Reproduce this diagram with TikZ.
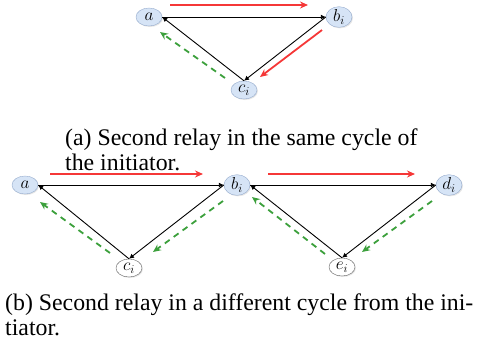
\documentclass[tikz,border=0pt]{standalone}
\usepackage{fontspec}
\setmainfont{Liberation Serif}
\usetikzlibrary{arrows.meta,shapes.geometric,shadows}
\definecolor{relayred}{RGB}{245,55,55}
\definecolor{ackgreen}{RGB}{60,160,60}
\definecolor{nodeblue}{RGB}{214,228,246}
\definecolor{nodeedge}{RGB}{150,172,205}

\begin{document}
\begin{tikzpicture}[
  x=1pt,y=-1pt,
  peer/.style={ellipse,draw=nodeedge,fill=nodeblue,minimum width=26pt,minimum height=18pt,inner sep=0pt,
    font=\fontsize{17}{17}\selectfont,drop shadow={opacity=0.2,shadow xshift=1pt,shadow yshift=-1pt}},
  idle/.style={peer,draw=black!60,fill=white},
  link/.style={-{Latex[length=5pt,width=5pt]},line width=0.9pt},
  fwd/.style={-{Stealth[length=8pt,width=7pt]},relayred,line width=1.8pt},
  back/.style={-{Stealth[length=8pt,width=7pt]},ackgreen,line width=1.8pt,dash pattern=on 6pt off 5pt},
  capt/.style={align=left,inner sep=0pt,anchor=north west,font=\fontsize{23.8}{24.5}\selectfont},
]
\useasboundingbox (0,0) rectangle (485,349);
% (a) same cycle
\node[peer] (a1) at (149,17) {$a$};
\node[peer] (b1) at (339,17) {$b_i$};
\node[peer] (c1) at (244,90) {$c_i$};
\draw[link] (a1.east)--(b1.west); \draw[link] (b1.west)--(c1.north);
\draw[link] (c1.north)--(a1.east);
\coordinate (r1s) at (170,5);   \coordinate (r1e) at (308,5);
\coordinate (r2s) at (322,30);  \coordinate (r2e) at (260,77);
\coordinate (g1s) at (225,78);  \coordinate (g1e) at (160,32);
\draw[fwd] (r1s)--(r1e); \draw[fwd] (r2s)--(r2e);
\draw[back] (g1s)--(g1e);
\node[capt] (capa) at (65,129) {(a) Second relay in the same cycle of\\the initiator.};
% (b) different cycle
\node[peer] (a2) at (25,185) {$a$};
\node[peer] (b2) at (237,185) {$b_i$};
\node[peer] (d2) at (449,185) {$d_i$};
\node[idle] (c2) at (129,268) {$c_i$};
\node[idle] (e2) at (342,267) {$e_i$};
\draw[link] (a2.east)--(b2.west); \draw[link] (b2.west)--(c2.north);
\draw[link] (c2.north)--(a2.east);
\draw[link] (b2.east)--(d2.west); \draw[link] (d2.west)--(e2.north);
\draw[link] (e2.north)--(b2.east);
\coordinate (r3s) at (50,174);   \coordinate (r3e) at (203,174);
\coordinate (r4s) at (268,174);  \coordinate (r4e) at (415,174);
\coordinate (g2s) at (223,201);  \coordinate (g2e) at (153,252);
\coordinate (g3s) at (110,253);  \coordinate (g3e) at (40,202);
\coordinate (g4s) at (432,201);  \coordinate (g4e) at (362,252);
\coordinate (g5s) at (325,254);  \coordinate (g5e) at (252,197);
\draw[fwd] (r3s)--(r3e); \draw[fwd] (r4s)--(r4e);
\draw[back] (g2s)--(g2e); \draw[back] (g3s)--(g3e);
\draw[back] (g4s)--(g4e); \draw[back] (g5s)--(g5e);
\node[capt] (capb) at (5,294) {(b) Second relay in a different cycle from the ini-\\tiator.};
\end{tikzpicture}
\end{document}
